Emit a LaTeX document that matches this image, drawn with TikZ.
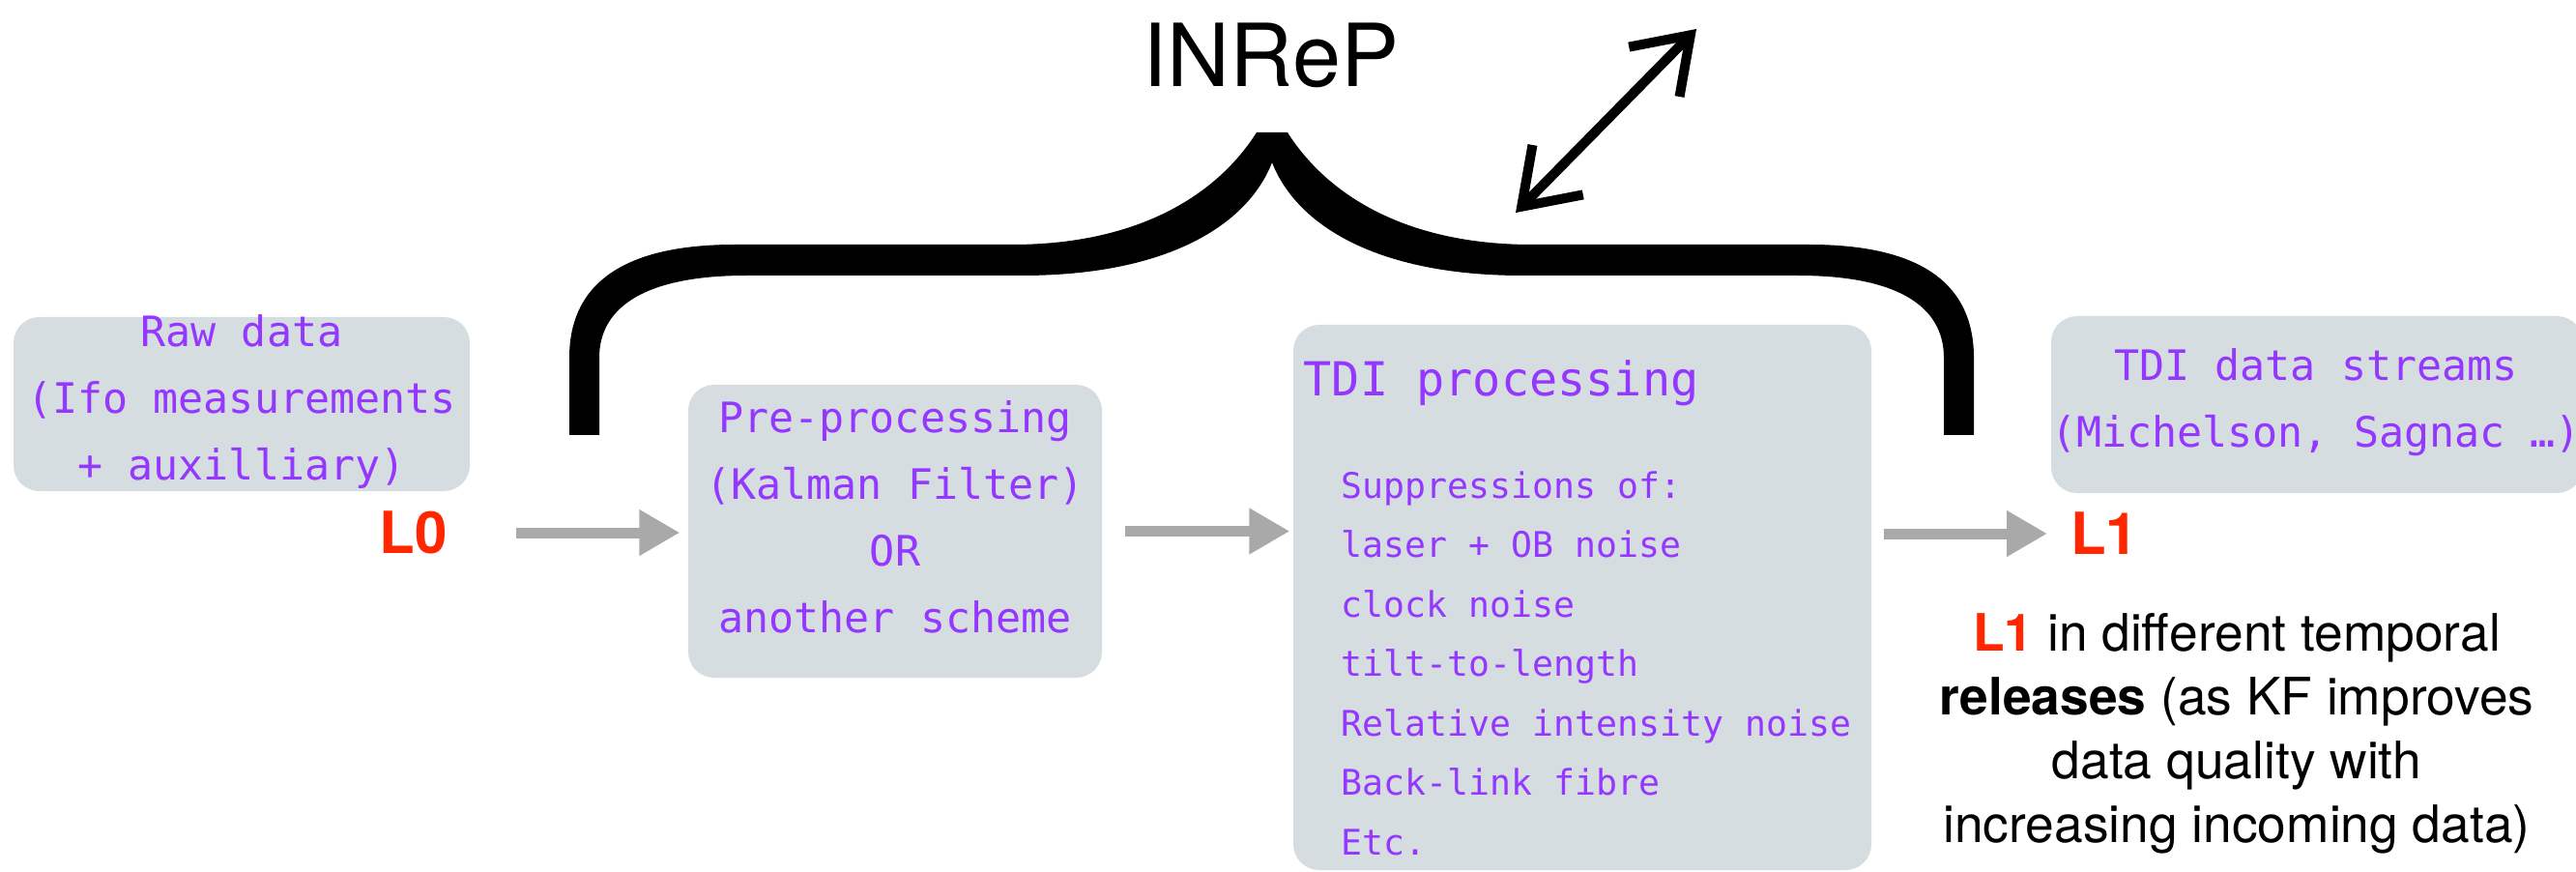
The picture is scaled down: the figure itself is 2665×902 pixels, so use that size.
\documentclass[tikz,border=0pt]{standalone}
\usepackage{fontspec}
\setmainfont{TeX Gyre Heros}
\setmonofont{DejaVu Sans Mono}
\usetikzlibrary{arrows.meta,decorations.pathmorphing}
\definecolor{boxfill}{HTML}{D6DDE1}
\definecolor{purp}{HTML}{9437FF}
\definecolor{redL}{HTML}{FF2600}
\definecolor{garr}{HTML}{A9A9A9}
\begin{document}
\begin{tikzpicture}[x=0.3pt,y=-0.3pt,
  box/.style={fill=boxfill, draw=none, rounded corners=8pt, inner sep=0pt},
  mono/.style={font=\ttfamily\fontsize{13pt}{20.7pt}\selectfont, text=purp, align=center, inner sep=0pt},
  monohead/.style={font=\ttfamily\fontsize{14.55pt}{18pt}\selectfont, text=purp, inner sep=0pt},
  monolist/.style={font=\ttfamily\fontsize{10.95pt}{18.45pt}\selectfont, text=purp, align=left, inner sep=0pt},
  levlabel/.style={font=\bfseries\fontsize{18pt}{20pt}\selectfont, text=redL, inner sep=0pt},
  garrow/.style={draw=garr, line width=3.3pt, -{Triangle[length=12.6pt,width=13.5pt]}},
  sketch/.style={draw=black, line width=3pt, line cap=round, line join=round,
    {Straight Barb[length=16pt,width=22pt]}-{Straight Barb[length=16pt,width=22pt]}}
]
\useasboundingbox (0,0) rectangle (2665,902);

% boxes
\node[box, minimum width=472*0.3pt, minimum height=180*0.3pt] (raw) at (250,418) {};
\node[box, minimum width=428*0.3pt, minimum height=303*0.3pt] (pre) at (926,549.5) {};
\node[box, minimum width=598*0.3pt, minimum height=564*0.3pt] (tdi) at (1637,618) {};
\node[box, minimum width=550*0.3pt, minimum height=183*0.3pt] (streams) at (2397,418.5) {};

% box texts
\node[mono] (rawtxt) at (250,416) {Raw data\\(Ifo measurements\\+ auxilliary)};
\node[mono] (pretxt) at (926,535) {Pre-processing\\(Kalman Filter)\\OR\\another scheme};
\node[monohead, anchor=west] (tdihead) at (1348,396) {TDI processing};
\node[monolist, anchor=north west] (tdilist) at (1387,487) {Suppressions of:\\laser + OB noise\\clock noise\\tilt-to-length\\Relative intensity noise\\Back-link fibre\\Etc.};
\node[mono] (streamtxt) at (2396,416) {TDI data streams\\(Michelson, Sagnac …)};

% level labels
\node[levlabel] (L0) at (428,551) {L0};
\node[levlabel] (L1) at (2177,552) {L1};

% gray arrows
\draw[garrow, shorten <=21.2pt, shorten >=2.4pt] (L0.east) -- (L0.east -| pre.west);
\draw[garrow, shorten <=6.9pt, shorten >=0.9pt] (pre.east) -- (pre.east -| tdi.west);
\draw[garrow, shorten <=3.6pt, shorten >=7pt] (tdi.east |- L1.west) -- (L1.west);

% release note
\node[font=\fontsize{16pt}{19.8pt}\selectfont, align=center, inner sep=0pt] (note) at (2314,759)
  {{\color{redL}\bfseries L1} in different temporal\\{\bfseries releases} (as KF improves\\data quality with\\increasing incoming data)};

% title
\node[font=\fontsize{27pt}{30pt}\selectfont, inner sep=0pt] (title) at (1315,57) {INReP};

% brace
\fill[black] (589,450) -- (589,370)
  .. controls (589,290) and (650,253) .. (760,253)
  -- (1047,253)
  .. controls (1180,253) and (1260,200) .. (1300,137)
  -- (1332,137)
  .. controls (1372,200) and (1452,253) .. (1585,253)
  -- (1872,253)
  .. controls (1982,253) and (2042,290) .. (2042,370)
  -- (2042,450) -- (2011,450) -- (2011,370)
  .. controls (2011,315) and (1960,285) .. (1860,285)
  -- (1575,285)
  .. controls (1420,285) and (1340,230) .. (1316,168)
  .. controls (1292,230) and (1212,285) .. (1057,285)
  -- (772,285)
  .. controls (672,285) and (620,315) .. (620,370)
  -- (620,450) -- cycle;

% double arrow
\coordinate (dA) at (1568,220);
\coordinate (dB) at (1755,30);
\draw[sketch] (dA) -- (dB);
\end{tikzpicture}
\end{document}
